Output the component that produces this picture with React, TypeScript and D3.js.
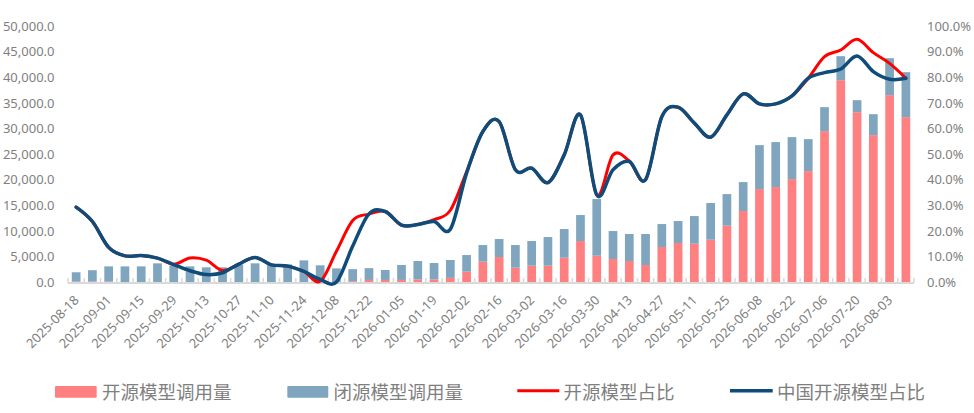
import React from "react";
import * as d3 from "d3";

const weeks: string[] = [
  "2025-08-18","2025-08-25","2025-09-01","2025-09-08","2025-09-15","2025-09-22","2025-09-29",
  "2025-10-06","2025-10-13","2025-10-20","2025-10-27","2025-11-03","2025-11-10","2025-11-17",
  "2025-11-24","2025-12-01","2025-12-08","2025-12-15","2025-12-22","2025-12-29","2026-01-05",
  "2026-01-12","2026-01-19","2026-01-26","2026-02-02","2026-02-09","2026-02-16","2026-02-23",
  "2026-03-02","2026-03-09","2026-03-16","2026-03-23","2026-03-30","2026-04-06","2026-04-13",
  "2026-04-20","2026-04-27","2026-05-04","2026-05-11","2026-05-18","2026-05-25","2026-06-01",
  "2026-06-08","2026-06-15","2026-06-22","2026-06-29","2026-07-06","2026-07-13","2026-07-20",
  "2026-07-27","2026-08-03","2026-08-10",
];

// 开源模型调用量
const openCalls: number[] = [
  80, 80, 80, 0, 0, 0, 0, 0, 0, 0, 0, 0, 0, 0, 0, 0, 0, 150, 400, 400,
  400, 500, 500, 800, 2010, 3960, 4870, 2790, 3180, 3180, 4740, 7990, 5130, 4480, 4090, 3310,
  6820, 7600, 7470, 8250, 10980, 13840, 18130, 18520, 20070, 21630, 29430, 39370, 33130, 28650,
  36450, 32160,
];

// 闭源模型调用量
const closedCalls: number[] = [
  1820, 2220, 2970, 3050, 3050, 3640, 3200, 3050, 2860, 2860, 3400, 3640, 3300, 3440, 4220, 3250,
  2660, 2350, 2300, 1940, 2910, 3590, 3200, 3490, 3250, 3250, 3510, 4420, 4810, 5590, 5590, 5070,
  11050, 5460, 5270, 6050, 4480, 4290, 5390, 7150, 6170, 5650, 8570, 8770, 8190, 6240, 4680, 4680,
  2340, 4090, 7210, 8770,
];

// 开源模型占比 (%)
const openShare: number[] = [
  29.2, 23.6, 13.5, 10.2, 10.3, 9.3, 6.9, 9.4, 8.5, 4.5, 7.0, 9.6, 6.7, 6.2, 4.1, 0.3,
  12.0, 24.0, 26.5, 27.5, 22.2, 22.4, 24.3, 28.0, 43.0, 58.7, 62.6, 43.8, 44.4, 38.8, 49.6, 65.2,
  34.0, 49.6, 47.2, 39.9, 64.5, 68.2, 62.0, 56.5, 65.2, 73.4, 69.5, 69.5, 72.6, 79.5, 87.9, 90.5,
  94.7, 89.5, 85.3, 79.5,
];

// 中国开源模型占比 (%)
const chinaShare: number[] = [
  29.2, 23.6, 13.5, 10.2, 10.3, 9.3, 6.8, 4.4, 2.9, 3.6, 7.0, 9.6, 6.7, 6.2, 4.1, 1.0,
  0.0, 14.0, 26.6, 27.5, 22.2, 22.4, 23.6, 20.6, 42.5, 58.7, 62.6, 43.8, 44.4, 38.8, 49.6, 65.2,
  34.0, 43.8, 47.0, 39.9, 64.5, 68.2, 62.0, 56.5, 65.2, 73.4, 69.5, 69.5, 72.6, 79.5, 81.7, 83.1,
  88.2, 82.1, 79.1, 79.5,
];

const leftTicks: number[] = [0, 5000, 10000, 15000, 20000, 25000, 30000, 35000, 40000, 45000, 50000];
const rightTicks: number[] = [0, 10, 20, 30, 40, 50, 60, 70, 80, 90, 100];

const seriesNames: string[] = ["开源模型调用量", "闭源模型调用量", "开源模型占比", "中国开源模型占比"];

const W = 974;
const H = 413;
const X0 = 68;
const X1 = 914;
const Y0 = 282;
const Y1 = 25.7;

const PINK = "#FF8080";
const STEEL = "#7FA5BF";
const RED = "#FF0000";
const NAVY = "#0F4C7A";
const TEXT = "#7f7f7f";
const NUM_FONT = "'Noto Sans', 'Liberation Sans', sans-serif";
const CJK_FONT = "'Noto Sans CJK SC', 'Noto Sans', sans-serif";

export default function App() {
  const p = 0.465;
  const x = d3.scaleBand<string>().domain(weeks).range([X0, X1]).paddingInner(p).paddingOuter(p / 2);
  const step = x.step();
  const yL = d3.scaleLinear().domain([0, 50000]).range([Y0, Y1]);
  const yR = d3.scaleLinear().domain([0, 100]).range([Y0, Y1]);
  const cx = (d: string) => (x(d) as number) + x.bandwidth() / 2;

  const lineGen = (vals: number[]) =>
    d3
      .line<number>()
      .x((_, i) => cx(weeks[i]))
      .y((v) => yR(v))
      .curve(d3.curveCardinal.tension(0))(vals) as string;

  const boundaries = d3.range(weeks.length + 1).map((k) => X0 + (X1 - X0) * (k / weeks.length));

  return (
    <svg
      width={W}
      height={H}
      viewBox={`0 0 ${W} ${H}`}
      style={{ position: "absolute", left: 0, top: 0, background: "#fff" }}
    >
      <rect x={0} y={0} width={W} height={H} fill="#fff" />
      {/* left axis labels */}
      {leftTicks.map((t) => (
        <text
          key={"l" + t}
          x={54.5}
          y={yL(t)}
          textAnchor="end"
          dominantBaseline="central"
          fontFamily={NUM_FONT}
          fontSize={13}
          fill={TEXT}
        >
          {d3.format(",.1f")(t)}
        </text>
      ))}
      {/* right axis labels */}
      {rightTicks.map((t) => (
        <text
          key={"r" + t}
          x={927}
          y={yR(t)}
          textAnchor="start"
          dominantBaseline="central"
          fontFamily={NUM_FONT}
          fontSize={13}
          fill={TEXT}
        >
          {t.toFixed(1) + "%"}
        </text>
      ))}
      {/* bars */}
      {weeks.map((w, i) => (
        <g key={"b" + w}>
          <rect
            x={x(w)}
            y={yL(openCalls[i])}
            width={x.bandwidth()}
            height={Y0 - yL(openCalls[i])}
            fill={PINK}
          />
          <rect
            x={x(w)}
            y={yL(openCalls[i] + closedCalls[i])}
            width={x.bandwidth()}
            height={yL(openCalls[i]) - yL(openCalls[i] + closedCalls[i])}
            fill={STEEL}
          />
        </g>
      ))}
      {/* axis line and ticks */}
      <line x1={X0} x2={X1} y1={Y0 + 1} y2={Y0 + 1} stroke="#d9d9d9" strokeWidth={2} />
      {boundaries.map((bx, k) => (
        <line key={"t" + k} x1={bx} x2={bx} y1={Y0 - 4} y2={Y0 + 1} stroke="#d9d9d9" strokeWidth={1.5} />
      ))}
      {/* x labels */}
      {weeks.map((w, i) =>
        i % 2 === 0 ? (
          <text
            key={"x" + w}
            transform={`translate(${cx(w) + 3.7},${301}) rotate(-45)`}
            textAnchor="end"
            fontFamily={NUM_FONT}
            fontSize={13}
            fill={TEXT}
          >
            {w}
          </text>
        ) : null
      )}
      {/* lines */}
      <path d={lineGen(openShare)} fill="none" stroke={RED} strokeWidth={3} strokeLinejoin="round" strokeLinecap="round" />
      <path d={lineGen(chinaShare)} fill="none" stroke={NAVY} strokeWidth={3.5} strokeLinejoin="round" strokeLinecap="round" />
      {/* legend */}
      <rect x={55} y={386} width={41.7} height={11.7} rx={1} fill={PINK} />
      <text x={102} y={391} dominantBaseline="central" fontFamily={CJK_FONT} fontSize={18.5} fill={TEXT}>
        {seriesNames[0]}
      </text>
      <rect x={287.3} y={386} width={41} height={11.7} rx={1} fill={STEEL} />
      <text x={333.5} y={391} dominantBaseline="central" fontFamily={CJK_FONT} fontSize={18.5} fill={TEXT}>
        {seriesNames[1]}
      </text>
      <line x1={517.3} x2={559.3} y1={390.7} y2={390.7} stroke={RED} strokeWidth={3} />
      <text x={563.5} y={391} dominantBaseline="central" fontFamily={CJK_FONT} fontSize={18.5} fill={TEXT}>
        {seriesNames[2]}
      </text>
      <line x1={730} x2={772.7} y1={390.7} y2={390.7} stroke={NAVY} strokeWidth={3.5} />
      <text x={777} y={391} dominantBaseline="central" fontFamily={CJK_FONT} fontSize={18.5} fill={TEXT}>
        {seriesNames[3]}
      </text>
    </svg>
  );
}
